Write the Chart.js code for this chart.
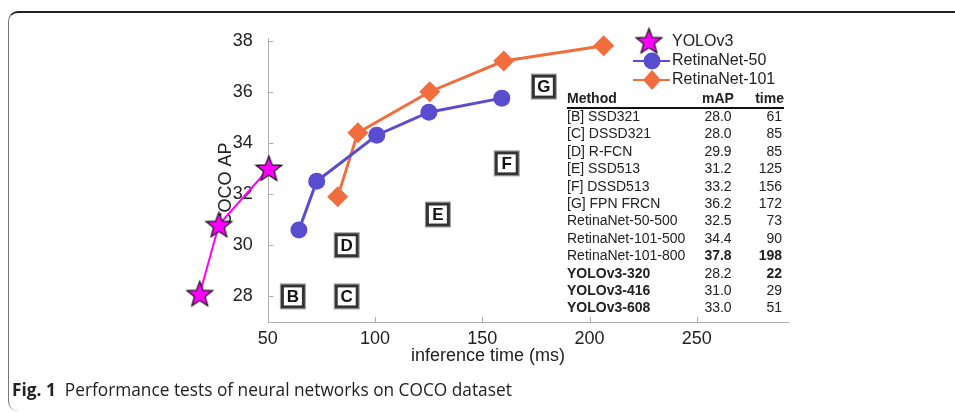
<!DOCTYPE html>
<html>
<head>
<meta charset="utf-8">
<script src="https://cdn.jsdelivr.net/npm/chart.js@4"></script>
<style>
body { margin: 0; width: 955px; height: 413px; overflow: hidden; background: #fff; font-family: "Liberation Sans", Arial, sans-serif; }
#frame { position: absolute; left: 8px; top: 11px; width: 980px; height: 398px; border-top: 2px solid #222; border-left: 1.5px solid #777; border-top-left-radius: 10px; border-bottom-left-radius: 10px; }
#chart { position: absolute; left: 0; top: 0; }
.cell { position: absolute; white-space: nowrap; font-size: 14px; line-height: 17px; color: #222; }
#rule { position: absolute; left: 567px; top: 107px; width: 217px; height: 2px; background: #111; }
#caption { position: absolute; left: 12px; top: 379px; font-family: "Open Sans", sans-serif; font-size: 17.3px; line-height: 22px; color: #222; white-space: nowrap; }
</style>
</head>
<body>
<div id="frame"></div>
<canvas id="chart" width="955" height="413"></canvas>
<div id="table"></div>
<div id="rule"></div>
<div id="caption"><b>Fig. 1</b>&nbsp; Performance tests of neural networks on COCO dataset</div>
<script>
// plotted positions
var yoloTime = [18.3, 27.2, 50.5];
var yoloAP = [28.1, 30.8, 33.0];
var r50Time = [64.5, 72.8, 100.8, 125.1, 159.1];
var r50AP = [30.6, 32.5, 34.3, 35.2, 35.75];
var r101Time = [82.6, 92.0, 125.5, 160.0, 206.6];
var r101AP = [31.9, 34.4, 36.0, 37.2, 37.8];

// boxed letters for the other methods
var boxLetters = ['B', 'C', 'D', 'E', 'F', 'G'];
var boxTime = [61.7, 86.8, 86.8, 129.3, 161.4, 178.7];
var boxAP = [28.0, 28.0, 30.0, 31.2, 33.2, 36.2];

var xTicks = [50, 100, 150, 200, 250];
var yTicks = [28, 30, 32, 34, 36, 38];

// table on the right
var tableHead = ['Method', 'mAP', 'time'];
var tableMethods = ['[B] SSD321', '[C] DSSD321', '[D] R-FCN', '[E] SSD513', '[F] DSSD513', '[G] FPN FRCN',
    'RetinaNet-50-500', 'RetinaNet-101-500', 'RetinaNet-101-800', 'YOLOv3-320', 'YOLOv3-416', 'YOLOv3-608'];
var tableMAP = ['28.0', '28.0', '29.9', '31.2', '33.2', '36.2', '32.5', '34.4', '37.8', '28.2', '31.0', '33.0'];
var tableTime = ['61', '85', '85', '125', '156', '172', '73', '90', '198', '22', '29', '51'];
var boldMethod = [9, 10, 11];
var boldMAP = [8];
var boldTime = [8, 9];

var magenta = '#ff00ff';
var blue = '#5a4ccf';
var orange = '#f26d3d';
var axisGray = '#b0b0b0';
var fontName = 'Liberation Sans';

function addCell(text, left, y, width, align, bold) {
    var d = document.createElement('div');
    d.className = 'cell';
    d.textContent = text;
    d.style.left = left + 'px';
    d.style.top = y + 'px';
    d.style.width = width + 'px';
    d.style.textAlign = align;
    if (bold) d.style.fontWeight = 'bold';
    document.getElementById('table').appendChild(d);
}

addCell(tableHead[0], 567, 90, 130, 'left', true);
addCell(tableHead[1], 693, 90, 50, 'center', true);
addCell(tableHead[2], 742, 90, 42, 'right', true);
for (var i = 0; i < tableMethods.length; i++) {
    var rowTop = 108 + i * 17.4;
    addCell(tableMethods[i], 567, rowTop, 130, 'left', boldMethod.indexOf(i) >= 0);
    addCell(tableMAP[i], 693, rowTop, 50, 'center', boldMAP.indexOf(i) >= 0);
    addCell(tableTime[i], 742, rowTop, 40, 'right', boldTime.indexOf(i) >= 0);
}

function makeStar(r) {
    var c = document.createElement('canvas');
    var s = Math.ceil(r * 2 + 4);
    c.width = s;
    c.height = s;
    var g = c.getContext('2d');
    g.beginPath();
    for (var k = 0; k < 10; k++) {
        var rr = k % 2 ? r * 0.42 : r;
        var a = -Math.PI / 2 + k * Math.PI / 5;
        g.lineTo(s / 2 + rr * Math.cos(a), s / 2 + 1 + rr * Math.sin(a));
    }
    g.closePath();
    g.fillStyle = magenta;
    g.fill();
    g.lineWidth = 1.2;
    g.strokeStyle = '#111';
    g.stroke();
    return c;
}
var star = makeStar(13.5);

function toPoints(xs, ys) {
    return xs.map(function (x, j) { return { x: x, y: ys[j] }; });
}

var extras = {
    id: 'extras',
    beforeDatasetsDraw: function (chart) {
        var ctx = chart.ctx;
        var sx = chart.scales.x, sy = chart.scales.y;
        var area = chart.chartArea;
        var x0 = Math.round(sx.getPixelForValue(xTicks[0])) + 0.5;
        ctx.save();
        // axis lines meet at (50 ms, bottom)
        ctx.strokeStyle = axisGray;
        ctx.lineWidth = 1;
        ctx.beginPath();
        ctx.moveTo(x0, area.top);
        ctx.lineTo(x0, area.bottom + 0.5);
        ctx.lineTo(area.right, area.bottom + 0.5);
        ctx.stroke();
        // small inward ticks
        xTicks.slice(1).forEach(function (v) {
            var px = Math.round(sx.getPixelForValue(v)) + 0.5;
            ctx.beginPath(); ctx.moveTo(px, area.bottom); ctx.lineTo(px, area.bottom - 5); ctx.stroke();
        });
        yTicks.forEach(function (v) {
            var py = Math.round(sy.getPixelForValue(v)) + 0.5;
            ctx.beginPath(); ctx.moveTo(x0, py); ctx.lineTo(x0 + 5, py); ctx.stroke();
        });
        // axis titles
        ctx.fillStyle = '#222';
        ctx.font = '18px "' + fontName + '"';
        ctx.textAlign = 'center';
        ctx.textBaseline = 'middle';
        ctx.fillText('inference time (ms)', 488, 356);
        ctx.translate(226, 184);
        ctx.rotate(-Math.PI / 2);
        ctx.fillText('COCO AP', 0, 0);
        ctx.restore();

        // boxed letters
        ctx.save();
        ctx.font = 'bold 17px "' + fontName + '"';
        ctx.textAlign = 'center';
        ctx.textBaseline = 'middle';
        boxLetters.forEach(function (l, j) {
            var px = sx.getPixelForValue(boxTime[j]);
            var py = sy.getPixelForValue(boxAP[j]);
            ctx.fillStyle = '#fff';
            ctx.fillRect(px - 11, py - 11, 22, 22);
            ctx.strokeStyle = '#999';
            ctx.lineWidth = 1;
            ctx.strokeRect(px - 12.5, py - 12.5, 25, 25);
            ctx.strokeStyle = '#333';
            ctx.lineWidth = 3;
            ctx.strokeRect(px - 10.5, py - 10.5, 21, 21);
            ctx.fillStyle = '#111';
            ctx.fillText(l, px, py + 1);
        });
        ctx.restore();
    },
    afterDatasetsDraw: function (chart) {
        var ctx = chart.ctx;
        ctx.save();
        ctx.font = '16px "' + fontName + '"';
        ctx.fillStyle = '#222';
        ctx.textBaseline = 'middle';
        ctx.drawImage(star, 649 - star.width / 2, 41 - star.height / 2);
        ctx.fillText('YOLOv3', 672, 42);

        ctx.strokeStyle = blue;
        ctx.lineWidth = 2;
        ctx.beginPath(); ctx.moveTo(633, 61); ctx.lineTo(670, 61); ctx.stroke();
        ctx.fillStyle = blue;
        ctx.beginPath(); ctx.arc(652, 61, 8.5, 0, Math.PI * 2); ctx.fill();
        ctx.fillStyle = '#222';
        ctx.fillText('RetinaNet-50', 672, 61);

        ctx.strokeStyle = orange;
        ctx.beginPath(); ctx.moveTo(633, 80); ctx.lineTo(670, 80); ctx.stroke();
        ctx.fillStyle = orange;
        ctx.beginPath();
        ctx.moveTo(652, 70); ctx.lineTo(661, 80); ctx.lineTo(652, 90); ctx.lineTo(643, 80);
        ctx.closePath(); ctx.fill();
        ctx.fillStyle = '#222';
        ctx.fillText('RetinaNet-101', 672, 80);
        ctx.restore();
    }
};

var ctx = document.getElementById('chart').getContext('2d');
var chart = new Chart(ctx, {
    type: 'scatter',
    data: {
        datasets: [{
            label: 'YOLOv3',
            data: toPoints(yoloTime, yoloAP),
            showLine: true,
            borderColor: magenta,
            borderWidth: 2,
            pointStyle: star,
            clip: false
        }, {
            label: 'RetinaNet-50',
            data: toPoints(r50Time, r50AP),
            showLine: true,
            borderColor: blue,
            backgroundColor: blue,
            borderWidth: 3,
            pointStyle: 'circle',
            pointRadius: 8.5,
            pointBorderWidth: 0,
            clip: false
        }, {
            label: 'RetinaNet-101',
            data: toPoints(r101Time, r101AP),
            showLine: true,
            borderColor: orange,
            backgroundColor: orange,
            borderWidth: 3,
            pointStyle: 'rectRot',
            pointRadius: 10.5,
            pointBorderWidth: 0,
            clip: false
        }]
    },
    options: {
        responsive: false,
        animation: false,
        // chart area starts at 10 ms so the YOLOv3 points left of the y axis stay inside it
        layout: { padding: { top: 38, right: 166, left: 182, bottom: 0 } },
        plugins: { legend: { display: false }, tooltip: { enabled: false } },
        scales: {
            x: {
                type: 'linear',
                min: 10,
                max: 293,
                afterBuildTicks: function (s) { s.ticks = xTicks.map(function (v) { return { value: v }; }); },
                afterFit: function (s) { s.height = 91; },
                grid: { display: false, drawTicks: false },
                border: { display: false },
                ticks: { color: '#222', font: { family: fontName, size: 18 }, padding: 6, maxRotation: 0, autoSkip: false }
            },
            y: {
                // labels anchored a little left of the 50 ms axis line
                position: { x: 43 },
                min: 27,
                max: 38.1,
                afterBuildTicks: function (s) { s.ticks = yTicks.map(function (v) { return { value: v }; }); },
                grid: { display: false, drawTicks: false },
                border: { display: false },
                ticks: { color: '#222', font: { family: fontName, size: 18 }, autoSkip: false }
            }
        }
    },
    plugins: [extras]
});
</script>
</body>
</html>
